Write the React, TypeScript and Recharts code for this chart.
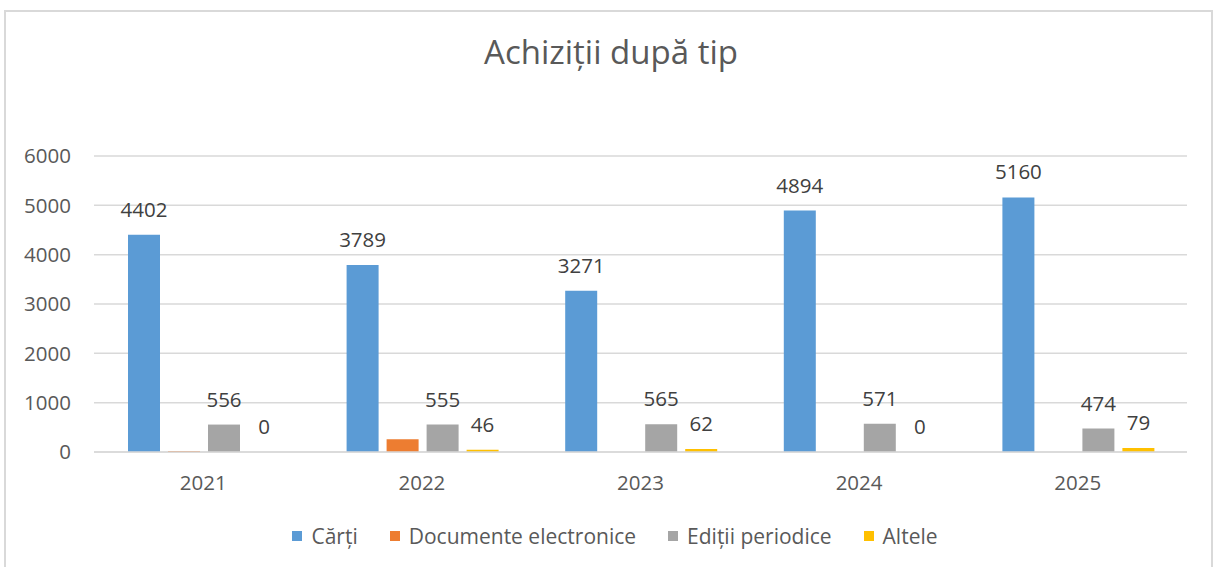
import React from "react";
import { BarChart, Bar, XAxis, YAxis, CartesianGrid, Legend, LabelList } from "recharts";

const years = ["2021", "2022", "2023", "2024", "2025"];
const carti = [4402, 3789, 3271, 4894, 5160];
const documenteElectronice = [20, 260, 0, 0, 0];
const editiiPeriodice = [556, 555, 565, 571, 474];
const altele = [0, 46, 62, 0, 79];
const yTicks = [0, 1000, 2000, 3000, 4000, 5000, 6000];

const seriesNames = ["Cărți", "Documente electronice", "Ediții periodice", "Altele"];
const seriesColors = ["#5B9BD5", "#ED7D31", "#A5A5A5", "#FFC000"];
const seriesKeys = ["carti", "doc", "edit", "alt"];

const data = years.map((y, i) => ({
  year: y,
  carti: carti[i],
  doc: documenteElectronice[i],
  edit: editiiPeriodice[i],
  alt: altele[i],
}));

const FONT = "'Open Sans', 'Noto Sans', sans-serif";
const FS = 20.5;

const LegendContent = () => (
  <div style={{ display: "flex", justifyContent: "center", alignItems: "center", fontFamily: FONT, fontSize: 21, color: "#595959", lineHeight: "28px" }}>
    {seriesNames.map((n, i) => (
      <div key={n} style={{ display: "flex", alignItems: "center", marginLeft: i === 0 ? 0 : 32 }}>
        <span style={{ display: "inline-block", width: 10, height: 10, background: seriesColors[i], marginRight: 9 }} />
        <span>{n}</span>
      </div>
    ))}
  </div>
);

export default function App() {
  return (
    <div style={{ position: "absolute", left: 0, top: 0, width: 1216, height: 567, background: "#fff", overflow: "hidden" }}>
      <div style={{ position: "absolute", left: 4, top: 10, width: 1209, height: 600, border: "2px solid #d9d9d9", boxSizing: "border-box" }} />
      <div style={{ position: "absolute", left: 0, top: 32, width: 1222, textAlign: "center", fontFamily: FONT, fontSize: 33, color: "#595959", lineHeight: "40px" }}>
        Achiziții după tip
      </div>
      <div style={{ position: "absolute", left: 0, top: 0 }}>
        <BarChart
          width={1216}
          height={567}
          data={data}
          margin={{ top: 156, right: 29, bottom: 85, left: 0 }}
          barGap={8}
          barCategoryGap={34}
        >
          <CartesianGrid vertical={false} stroke="#d9d9d9" strokeWidth={1.5} />
          <XAxis
            dataKey="year"
            axisLine={{ stroke: "#d9d9d9", strokeWidth: 1.5 }}
            tickLine={false}
            tickMargin={17}
            tick={{ fill: "#595959", fontSize: FS, fontFamily: FONT }}
          />
          <YAxis
            width={94}
            domain={[0, 6000]}
            ticks={yTicks}
            axisLine={false}
            tickLine={false}
            tickMargin={17}
            tick={{ fill: "#595959", fontSize: FS, fontFamily: FONT }}
          />
          <Legend
            content={<LegendContent />}
            wrapperStyle={{ left: 7, top: 522, width: 1216, height: 0, overflow: "visible" }}
          />
          {seriesKeys.map((k, i) => (
            <Bar
              key={k}
              dataKey={k}
              name={seriesNames[i]}
              fill={seriesColors[i]}
              isAnimationActive={false}
              minPointSize={(v: number) => (v === 0 ? 0.01 : 0)}
            >
              {k !== "doc" && (
                <LabelList dataKey={k} position="top" offset={18} fill="#404040" fontSize={FS} fontFamily={FONT} />
              )}
            </Bar>
          ))}
        </BarChart>
      </div>
    </div>
  );
}
